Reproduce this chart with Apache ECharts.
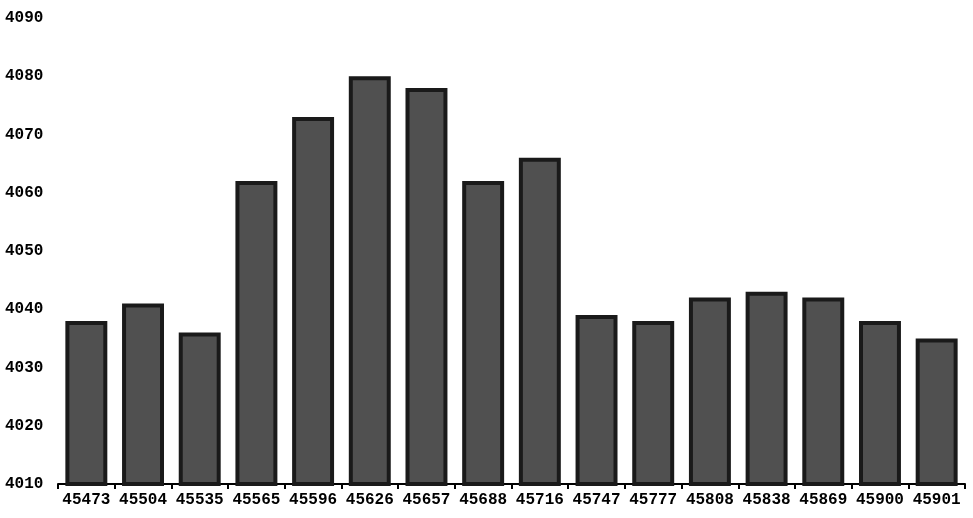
<!DOCTYPE html>
<html><head><meta charset="utf-8">
<script src="https://cdn.jsdelivr.net/npm/echarts@6/dist/echarts.min.js"></script>
<style>html,body{margin:0;padding:0;background:#fff}#c{width:973px;height:518px}</style>
</head><body><div id="c"></div>
<script>
var categories = ['45473','45504','45535','45565','45596','45626','45657','45688','45716','45747','45777','45808','45838','45869','45900','45901'];
var values = [4038,4041,4036,4062,4073,4080,4078,4062,4066,4039,4038,4042,4043,4042,4038,4035];
var yTicks = {min:4010, max:4090, interval:10};
var chart = echarts.init(document.getElementById('c'));
var font = {fontFamily:'Liberation Mono', fontSize:16, fontWeight:'bold', color:'#000'};
chart.setOption({
  animation:false,
  grid:{left:58, right:8, top:18, bottom:34},
  xAxis:{type:'category', data:categories,
    axisLine:{lineStyle:{color:'#000', width:2}},
    axisTick:{show:true, length:5, lineStyle:{color:'#000', width:2}},
    axisLabel:Object.assign({margin:8, interval:0, hideOverlap:false}, font)},
  yAxis:{type:'value', min:yTicks.min, max:yTicks.max, interval:yTicks.interval,
    axisLine:{show:false}, axisTick:{show:false}, splitLine:{show:false},
    axisLabel:Object.assign({margin:16, align:'left', padding:[0,0,0,-58+5+16],
      formatter:function(v){return String(v);}}, font)},
  series:[{type:'bar', data:values, barCategoryGap:'26%',
    itemStyle:{color:'#505050', borderColor:'#1a1a1a', borderWidth:4}}]
});
</script></body></html>
